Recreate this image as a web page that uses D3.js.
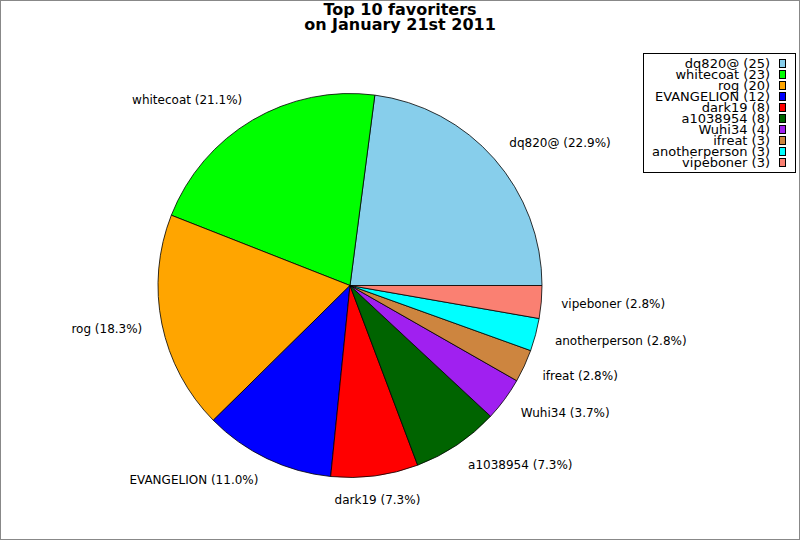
<!DOCTYPE html>
<html><head><meta charset="utf-8">
<script src="https://cdn.jsdelivr.net/npm/d3@7"></script>
<style>body{margin:0;background:#fff}svg{display:block;font-family:"DejaVu Sans",sans-serif}</style>
</head><body><svg id="c" width="800" height="540"></svg>
<script>
const names = ["dq820@","whitecoat","rog","EVANGELION","dark19","a1038954","Wuhi34","ifreat","anotherperson","vipeboner"];
const counts = [25,23,20,12,8,8,4,3,3,3];
const colors = ["#87CEEB","#00FF00","#FFA500","#0000FF","#FF0000","#006400","#A020F0","#CD853F","#00FFFF","#FA8072"];
const titleLines = ["Top 10 favoriters","on January 21st 2011"];

const svg = d3.select("#c");
svg.append("rect").attr("x",0.5).attr("y",0.5).attr("width",799).attr("height",539)
  .attr("fill","#fff").attr("stroke","#888").attr("stroke-width",1);

const cx = 350, cy = 285.5, r = 192, lrx = 212, lry = 216;
const total = d3.sum(counts);
const data = names.map((n,i)=>({name:n,value:counts[i],color:colors[i]}));
const pie = d3.pie().value(d=>d.value).sort(null)
  .startAngle(Math.PI/2).endAngle(Math.PI/2 - 2*Math.PI);
const arcs = pie(data);
const arc = d3.arc().innerRadius(0).outerRadius(r);
const g = svg.append("g").attr("transform",`translate(${cx},${cy})`);
g.selectAll("path").data(arcs).join("path")
  .attr("d",arc).attr("fill",d=>d.data.color)
  .attr("stroke","#000").attr("stroke-width",0.8).attr("stroke-linejoin","round");

g.selectAll("text.lbl").data(arcs).join("text").attr("class","lbl")
  .each(function(d){
    const a = (d.startAngle + d.endAngle)/2;
    const x = lrx*Math.sin(a), y = -lry*Math.cos(a);
    const c = Math.sin(a);
    const anchor = Math.abs(c) < 0.2 ? "middle" : (c > 0 ? "start" : "end");
    d3.select(this).attr("x",x).attr("y",y).attr("text-anchor",anchor)
      .attr("dominant-baseline","central").attr("font-size",12).attr("fill","#000")
      .text(`${d.data.name} (${(d.data.value/total*100).toFixed(1)}%)`);
  });

svg.selectAll("text.title").data(titleLines).join("text").attr("class","title")
  .attr("x",400).attr("y",(d,i)=>15+i*15).attr("text-anchor","middle")
  .attr("font-size",16).attr("font-weight","bold").text(d=>d);

// legend
const lg = svg.append("g");
lg.append("rect").attr("x",643.5).attr("y",53.5).attr("width",152).attr("height",119)
  .attr("fill","#fff").attr("stroke","#000").attr("stroke-width",1);
const rowY = d3.scalePoint().domain(d3.range(names.length)).range([63,162]);
const rows = lg.selectAll("g.row").data(data).join("g").attr("class","row")
  .attr("transform",(d,i)=>`translate(0,${rowY(i)})`);
rows.append("text").attr("x",770).attr("y",0).attr("text-anchor","end")
  .attr("dominant-baseline","central").attr("font-size",13)
  .text(d=>`${d.name} (${d.value})`);
rows.append("rect").attr("x",779.5).attr("y",-3.5).attr("width",6).attr("height",8)
  .attr("fill",d=>d.color).attr("stroke","#000").attr("stroke-width",1);
</script></body></html>
